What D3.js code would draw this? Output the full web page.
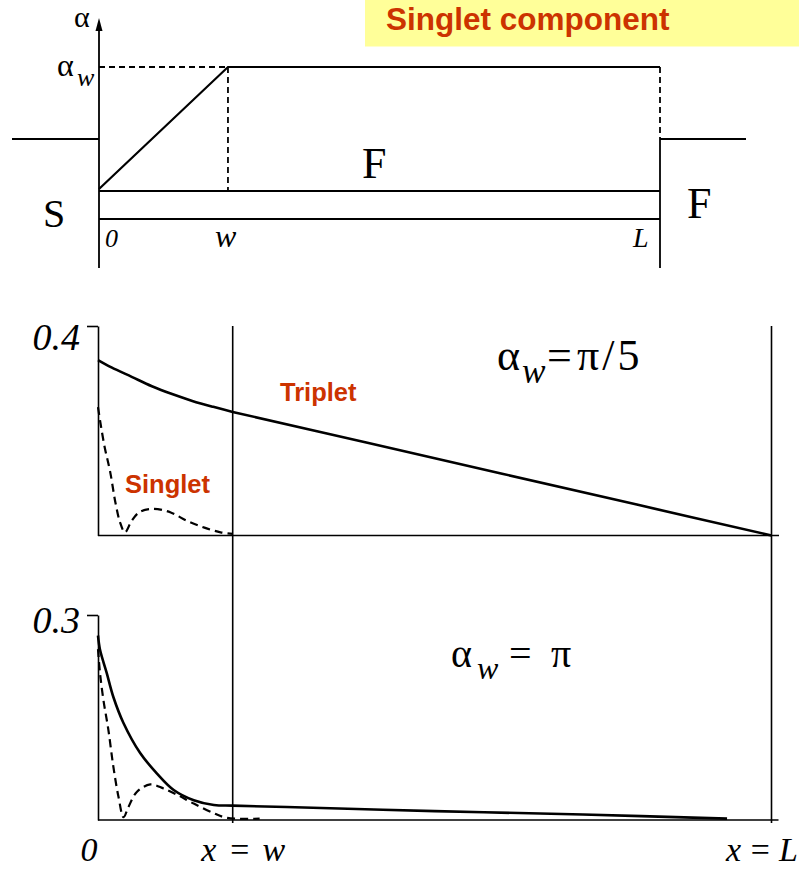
<!DOCTYPE html>
<html>
<head>
<meta charset="utf-8">
<script src="https://cdn.jsdelivr.net/npm/d3@7"></script>
<style>
  html, body { margin: 0; padding: 0; background: #fff; }
  svg { display: block; }
</style>
</head>
<body>
<svg id="chart" width="799" height="869"></svg>
<script>
// ---------- data ----------
// Position along the film in units of w (0 = S/F interface, w = end of twist, L = 5w)
const xTickValues = [0, 1, 5];
const xTickLabels = ["0", "x=w", "x=L"];

// Panel 1 : alpha_w = pi/5
const panel1YTicks = [0.4];
const triplet1X = [0, 0.1, 0.25, 0.4, 0.55, 0.7, 0.85, 1, 2, 3, 4, 5];
const triplet1Y = [0.335, 0.321, 0.303, 0.285, 0.270, 0.257, 0.246, 0.236, 0.177, 0.118, 0.059, 0];
const singlet1X = [0, 0.02, 0.05, 0.09, 0.13, 0.165, 0.2, 0.25, 0.31, 0.41, 0.54, 0.66, 0.79, 0.91, 1.0];
const singlet1Y = [0.245, 0.212, 0.168, 0.122, 0.062, 0.024, 0.006, 0.028, 0.045, 0.051, 0.044, 0.028, 0.015, 0.006, 0.003];

// Panel 2 : alpha_w = pi
const panel2YTicks = [0.3];
const triplet2X = [0, 0.015, 0.065, 0.114, 0.189, 0.313, 0.438, 0.562, 0.711, 0.86, 1, 1.4, 2.5, 3.6, 4.67];
const triplet2Y = [0.270, 0.249, 0.215, 0.180, 0.142, 0.098, 0.068, 0.044, 0.029, 0.022, 0.021, 0.019, 0.013, 0.008, 0.002];
const singlet2X = [0, 0.015, 0.04, 0.077, 0.114, 0.152, 0.19, 0.226, 0.288, 0.388, 0.487, 0.587, 0.711, 0.86, 0.96, 1.2];
const singlet2Y = [0.250, 0.215, 0.176, 0.132, 0.078, 0.034, 0.004, 0.019, 0.041, 0.052, 0.046, 0.037, 0.024, 0.010, 0.003, 0.002];

// Schematic : magnetization angle alpha(x), rising 0 -> alpha_w over [0, w], constant up to L
const schemX = [0, 1, 4.35];
const schemLabels = ["0", "w", "L"];
const profileAlpha = [0, 1, 1];

// ---------- setup ----------
const svg = d3.select("#chart");
const SERIF = '"Liberation Serif", "Times New Roman", serif';
const SANS = '"Liberation Sans", Arial, sans-serif';
const RED = "#cc3300";

// ---------- title ----------
svg.append("rect").attr("x", 365).attr("y", 0).attr("width", 434).attr("height", 46.5).attr("fill", "#ffff99");
svg.append("text").attr("x", 386).attr("y", 30)
  .attr("font-family", SANS).attr("font-weight", "bold").attr("font-size", 31.5)
  .attr("fill", RED).text("Singlet component");

// ---------- schematic ----------
const xs = d3.scaleLinear().domain([0, 4.35]).range([99, 660]);
const ya = d3.scaleLinear().domain([0, 1]).range([189, 67]);
const sch = svg.append("g").attr("stroke", "#000").attr("fill", "none").attr("stroke-width", 1.8);
const hLine = (x1, x2, y, dash) => sch.append("line").attr("x1", x1).attr("x2", x2).attr("y1", y).attr("y2", y).attr("stroke-dasharray", dash || null);
const vLine = (x, y1, y2, dash) => sch.append("line").attr("x1", x).attr("x2", x).attr("y1", y1).attr("y2", y2).attr("stroke-dasharray", dash || null);

vLine(xs(0), 268, 26);                 // alpha axis
svg.append("path").attr("d", `M${xs(0)},18 L${xs(0) + 3.5},31 L${xs(0) - 3.5},31 Z`).attr("fill", "#000");
hLine(12, xs(0), 139);                 // S level
hLine(xs(schemX[2]), 746, 139);        // F level
hLine(xs(0), xs(schemX[2]), 191);
hLine(xs(0), xs(schemX[2]), 219);
vLine(xs(schemX[2]), 139, 268);
vLine(xs(schemX[2]), ya(1), 139, "6,4");
hLine(xs(0), xs(schemX[1]), ya(1), "6,4");
vLine(xs(schemX[1]), ya(1), 191, "6,4");
sch.append("path")
  .attr("d", d3.line().x((d, i) => xs(schemX[i])).y(d => ya(d))(profileAlpha))
  .attr("stroke-width", 2.2);

const stext = (x, y, size, str, italic) => svg.append("text").attr("x", x).attr("y", y)
  .attr("font-family", SERIF).attr("font-size", size).attr("font-style", italic ? "italic" : "normal").text(str);
stext(74, 27, 30, "α");
stext(57, 76, 32, "α");
stext(77, 86, 26, "w", true);
stext(43, 227, 40, "S");
stext(362, 178, 44, "F");
stext(687, 218, 44, "F");
schemLabels.forEach((lab, i) => {
  const off = [6, -13, -27][i];
  const size = [26, 32, 28][i];
  stext(xs(schemX[i]) + off, 247, size, lab, true);
});

// ---------- data panels ----------
const x = d3.scaleLinear().domain([0, 5]).range([98, 771.5]);
const y1 = d3.scaleLinear().domain([0, 0.4]).range([535.5, 326]);
const y2 = d3.scaleLinear().domain([0, 0.3]).range([820, 615]);

const axisStyle = g => {
  g.selectAll("path, line").attr("stroke", "#000").attr("stroke-width", 1.6);
  g.selectAll("text").attr("font-family", SERIF).attr("font-style", "italic").attr("font-size", 38).attr("fill", "#000");
};

// y axes
svg.append("g").attr("transform", `translate(${x(0)},0)`)
  .call(d3.axisLeft(y1).tickValues(panel1YTicks).tickSize(11).tickSizeOuter(0).tickFormat(d3.format(".1f")))
  .call(axisStyle)
  .call(g => g.selectAll("text").attr("x", -18).attr("dy", null).attr("y", 23));
svg.append("g").attr("transform", `translate(${x(0)},0)`)
  .call(d3.axisLeft(y2).tickValues(panel2YTicks).tickSize(11).tickSizeOuter(0).tickFormat(d3.format(".1f")))
  .call(axisStyle)
  .call(g => g.selectAll("text").attr("x", -18).attr("dy", null).attr("y", 17));

// baselines of both panels
const base = svg.append("g").attr("stroke", "#000").attr("stroke-width", 1.6);
base.append("line").attr("x1", x(0)).attr("x2", x(5) + 7.5).attr("y1", y1(0)).attr("y2", y1(0));
base.append("line").attr("x1", x(0)).attr("x2", x(5) + 7).attr("y1", y2(0)).attr("y2", y2(0));
// x = w and x = L markers through both panels
[1, 5].forEach(v => base.append("line").attr("x1", x(v)).attr("x2", x(v)).attr("y1", y1(0.4)).attr("y2", y2(0) + 3));

// bottom axis labels
svg.append("g").attr("transform", `translate(0,${y2(0)})`)
  .call(d3.axisBottom(x).tickValues(xTickValues).tickSize(0).tickFormat((d, i) => xTickLabels[i]))
  .call(axisStyle)
  .call(g => g.select(".domain").remove())
  .call(g => g.selectAll("text")
    .attr("font-size", 34)
    .attr("text-anchor", "start")
    .attr("dy", null).attr("y", 41)
    .attr("x", (d, i) => [-18, -32, -46][i])
    .attr("textLength", (d, i) => [null, 84, 72][i])
    .attr("lengthAdjust", "spacing"));

// curves
const curve = d3.curveCatmullRom.alpha(0.5);
function drawSeries(xs_, ys_, yScale, dashed) {
  const pts = xs_.map((v, i) => [v, ys_[i]]);
  svg.append("path")
    .attr("d", d3.line().curve(curve).x(d => x(d[0])).y(d => yScale(d[1]))(pts))
    .attr("fill", "none").attr("stroke", "#000")
    .attr("stroke-width", dashed ? 2.2 : 2.6)
    .attr("stroke-dasharray", dashed ? "8,5" : null);
}
drawSeries(triplet1X, triplet1Y, y1, false);
drawSeries(singlet1X, singlet1Y, y1, true);
drawSeries(triplet2X, triplet2Y, y2, false);
drawSeries(singlet2X, singlet2Y, y2, true);

// series labels
svg.append("text").attr("x", 280).attr("y", 401).attr("font-family", SANS).attr("font-weight", "bold")
  .attr("font-size", 25.5).attr("fill", RED).text("Triplet");
svg.append("text").attr("x", 125).attr("y", 493).attr("font-family", SANS).attr("font-weight", "bold")
  .attr("font-size", 25.5).attr("fill", RED).text("Singlet");

// parameter labels: alpha, subscript w, then "= value", each piece placed at its own offset
function alphaLabel(x0, yp, size, offsets, rest, restSpacing) {
  const t = svg.append("text").attr("y", yp).attr("font-family", SERIF).attr("font-size", size);
  t.append("tspan").attr("x", x0).text("α");
  t.append("tspan").attr("x", x0 + offsets[0]).attr("font-style", "italic")
    .attr("font-size", size * 0.8).attr("dy", size * 0.3).text("w");
  t.append("tspan").attr("x", x0 + offsets[1]).attr("dy", -size * 0.3).text("=");
  t.append("tspan").attr("x", x0 + offsets[2]).attr("letter-spacing", restSpacing).text(rest);
}
alphaLabel(497, 370, 44, [25, 50, 80], "π/5", 3);
alphaLabel(451, 667, 40, [26, 58, 100], "π", 0);
</script>
</body>
</html>
